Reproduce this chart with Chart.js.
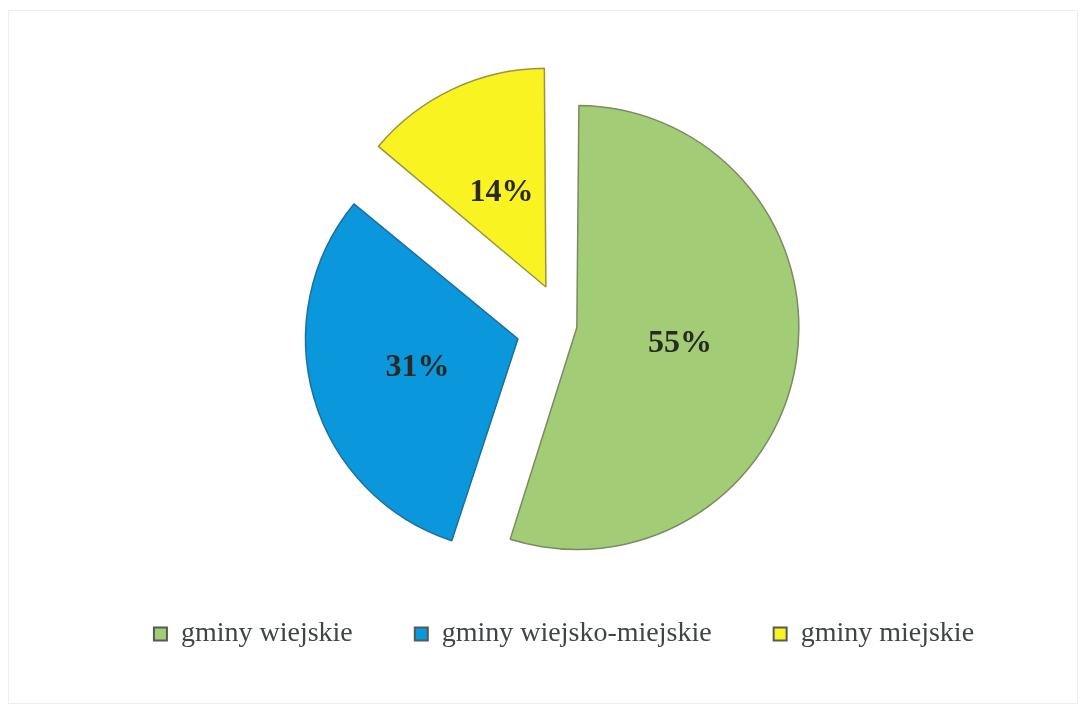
<!DOCTYPE html>
<html>
<head>
<meta charset="utf-8">
<script src="https://cdn.jsdelivr.net/npm/chart.js@4.4.1/dist/chart.umd.min.js"></script>
<style>
  html, body { margin: 0; padding: 0; background: #fff; }
  #wrap { position: relative; width: 1082px; height: 715px; }
  #frame { position: absolute; left: 8px; top: 10px; width: 1070px; height: 694px; border: 1px solid #eceef0; box-sizing: border-box; }
  canvas { position: absolute; left: 0; top: 0; }
</style>
</head>
<body>
<div id="wrap">
  <div id="frame"></div>
  <canvas id="pieChart" width="1082" height="715"></canvas>
</div>
<script>
// dane
const categories = ['gminy wiejskie', 'gminy wiejsko-miejskie', 'gminy miejskie'];
const shares = [55, 31, 14];
const percentLabels = ['55%', '31%', '14%'];

const sliceColors = ['#a2cd76', '#0a97dc', '#f9f321'];
const sliceBorders = ['#7c8a62', '#1f6f9e', '#9a9440'];
const sliceOffsets = [52, 192, 170];

// etykiety procentowe w środku wycinków
const percentPlugin = {
    id: 'percentPlugin',
    afterDatasetsDraw(chart) {
        const ctx = chart.ctx;
        const meta = chart.getDatasetMeta(0);
        ctx.save();
        ctx.font = 'bold 32px "Liberation Serif"';
        ctx.fillStyle = '#2a2a22';
        ctx.textAlign = 'center';
        ctx.textBaseline = 'middle';
        meta.data.forEach((arc, i) => {
            const half = (arc.startAngle + arc.endAngle) / 2;
            const d = arc.outerRadius / 2 + sliceOffsets[i] / 4;
            ctx.fillText(percentLabels[i], arc.x + Math.cos(half) * d, arc.y + Math.sin(half) * d);
        });
        ctx.restore();
    }
};

const ctx = document.getElementById('pieChart').getContext('2d');
const pieChart = new Chart(ctx, {
    type: 'pie',
    data: {
        labels: categories,
        datasets: [{
            data: shares,
            backgroundColor: sliceColors,
            borderColor: sliceBorders,
            borderWidth: 1.5,
            offset: sliceOffsets,
            hoverOffset: 0
        }]
    },
    options: {
        responsive: false,
        animation: false,
        radius: 209,
        layout: {
            padding: { left: 46, right: 0, top: 93, bottom: 57 }
        },
        plugins: {
            tooltip: { enabled: false },
            legend: {
                position: 'bottom',
                labels: {
                    font: { family: 'Liberation Serif', size: 28 },
                    color: '#3f4444',
                    boxWidth: 13,
                    boxHeight: 13,
                    padding: 62,
                    generateLabels(chart) {
                        return categories.map((text, i) => ({
                            text: text,
                            fillStyle: sliceColors[i],
                            strokeStyle: '#555a55',
                            lineWidth: 2,
                            fontColor: '#3f4444',
                            index: i
                        }));
                    }
                }
            }
        }
    },
    plugins: [percentPlugin]
});
</script>
</body>
</html>
